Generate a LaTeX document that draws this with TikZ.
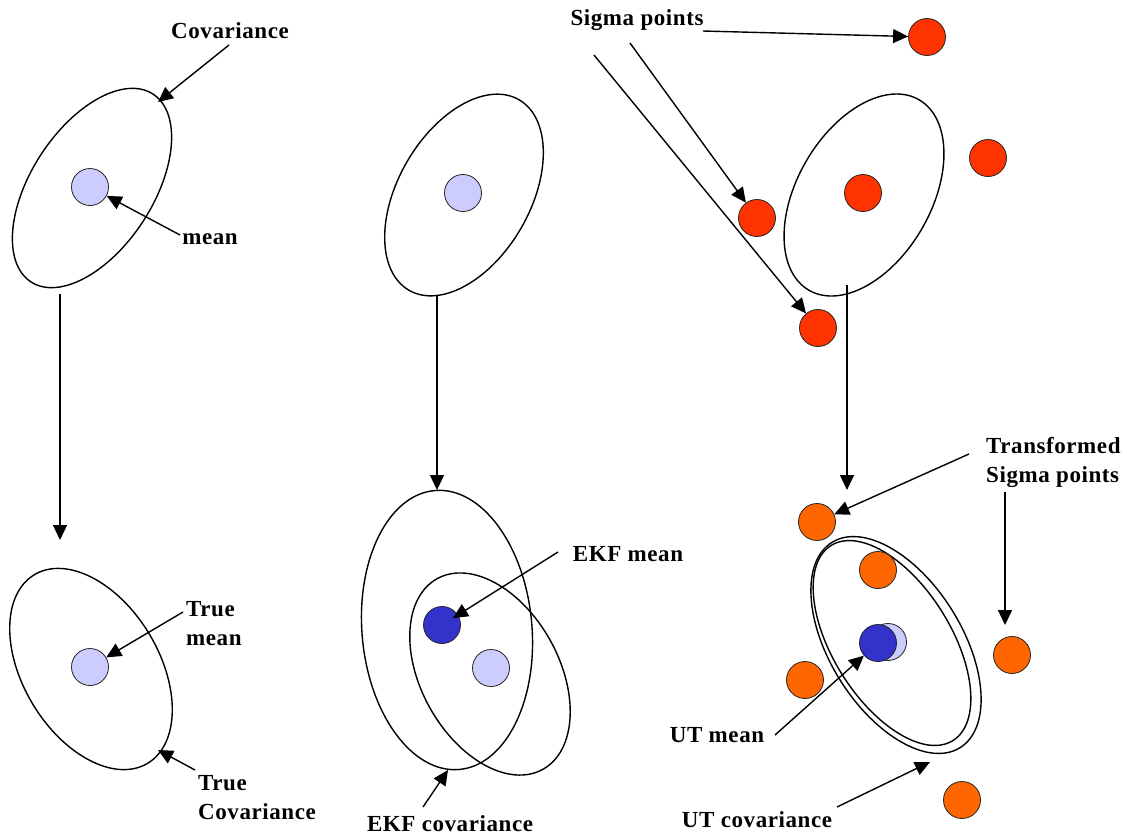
\documentclass[tikz,border=0pt]{standalone}
\usepackage{fontspec}
\setmainfont{Liberation Serif}
\newfontfamily\labelfont[LetterSpace=2.5]{Liberation Serif}
\usetikzlibrary{arrows.meta}
\definecolor{meanfill}{HTML}{CCCCFF}
\definecolor{estfill}{HTML}{3333CC}
\definecolor{sigfill}{HTML}{FF3300}
\definecolor{tsigfill}{HTML}{FF6600}
\begin{document}
\begin{tikzpicture}[x=1pt,y=-1pt,
  cov/.style={line width=1.4pt},
  pt/.style={circle, draw=black!85, line width=0.8pt, minimum size=37pt, inner sep=0pt},
  truept/.style={pt, fill=meanfill},
  estpt/.style={pt, fill=estfill},
  sigpt/.style={pt, fill=sigfill},
  tsigpt/.style={pt, fill=tsigfill},
  lbl/.style={font=\labelfont\bfseries\fontsize{23}{29}\selectfont, inner sep=0pt, align=left},
  ptr/.style={line width=1.4pt, -{Triangle[length=15pt,width=14pt]}},
]
\useasboundingbox[fill=white] (0,0) rectangle (1127,839);

% ---------- covariance ellipses ----------
\draw[cov, rotate around={57:(92,188)}]  (92,188)  ellipse [x radius=112pt, y radius=61pt];
\draw[cov, rotate around={121:(91,669)}] (91,669)  ellipse [x radius=110pt, y radius=68pt];
\draw[cov, rotate around={60:(464,195)}] (464,195) ellipse [x radius=110pt, y radius=66pt];
\draw[cov, rotate around={95:(447,630)}] (447,630) ellipse [x radius=140pt, y radius=85pt];
\draw[cov, rotate around={119:(490,674)}] (490,674) ellipse [x radius=109pt, y radius=69pt];
\draw[cov, rotate around={60:(864,195)}] (864,195) ellipse [x radius=110pt, y radius=67pt];
\draw[cov, rotate around={122:(896,645)}] (896,645) ellipse [x radius=121pt, y radius=66pt];
\draw[cov, rotate around={122:(892,643)}] (892,643) ellipse [x radius=115pt, y radius=59pt];

% ---------- points ----------
\node[truept] (m1)  at (90,187)  {};
\node[truept] (m2)  at (90,667)  {};
\node[truept] (m3)  at (463,193) {};
\node[truept] (m4)  at (491,668) {};
\node[estpt]  (ekf) at (442,625) {};
\node[truept] (m5)  at (888,642) {};
\node[estpt]  (ut)  at (878,643) {};

\node[sigpt] (s1) at (927,37)  {};
\node[sigpt] (s2) at (757,218) {};
\node[sigpt] (s3) at (863,193) {};
\node[sigpt] (s4) at (988,158) {};
\node[sigpt] (s5) at (818,328) {};

\node[tsigpt] (t1) at (817,522)  {};
\node[tsigpt] (t2) at (878,570)  {};
\node[tsigpt] (t3) at (805,680)  {};
\node[tsigpt] (t4) at (1012,655) {};
\node[tsigpt] (t5) at (962,800)  {};

% ---------- labels ----------
\node[lbl] (covlbl)  at (230,31)  {Covariance};
\node[lbl] (meanlbl) at (210,239) {mean};
\node[lbl, anchor=west] (tmeanlbl) at (186,624) {True\\mean};
\node[lbl, anchor=west] (tcovlbl)  at (198,798) {True\\Covariance};
\node[lbl] (ekfmlbl) at (628,554) {EKF mean};
\node[lbl] (ekfclbl) at (450,824) {EKF covariance};
\node[lbl] (siglbl)  at (637,20)  {Sigma points};
\node[lbl, anchor=west] (tsiglbl) at (986,462) {Transformed\\Sigma points};
\node[lbl] (utmlbl)  at (717,735) {UT mean};
\node[lbl] (utclbl)  at (757,820) {UT covariance};

% ---------- connector ends ----------
\coordinate (covtail)   at (229,45);
\coordinate (covtip)    at (158,102);
\coordinate (meantail)  at (180,235);
\coordinate (tmeantail) at (183,612);
\coordinate (tcovtail)  at (195,770);
\coordinate (tcovtip)   at (158,750);
\coordinate (leftA)     at (60,294);
\coordinate (leftB)     at (60,540);
\coordinate (midA)      at (437,295);
\coordinate (midB)      at (437,490);
\coordinate (ekfmtail)  at (558,552);
\coordinate (ekfctail)  at (423,807);
\coordinate (ekfctip)   at (448,770);
\coordinate (sigtailA)  at (703,31);
\coordinate (sigtailB)  at (630,43);
\coordinate (sigtailC)  at (594,55);
\coordinate (rightA)    at (847,285);
\coordinate (rightB)    at (847,490);
\coordinate (tsigtailA) at (969,454);
\coordinate (tsigtailB) at (1005,492);
\coordinate (tsigtipB)  at (1005,625);
\coordinate (utmtail)   at (775,735);
\coordinate (utctail)   at (837,807);
\coordinate (utctip)    at (930,762);

% ---------- connectors ----------
\draw[ptr] (covtail) -- (covtip);
\draw[ptr] (meantail) -- (m1);
\draw[ptr] (leftA) -- (leftB);
\draw[ptr] (tmeantail) -- (m2);
\draw[ptr] (tcovtail) -- (tcovtip);
\draw[ptr] (midA) -- (midB);
\draw[ptr, shorten >=-6pt] (ekfmtail) -- (ekf);
\draw[ptr] (ekfctail) -- (ekfctip);
\draw[ptr] (sigtailA) -- (s1);
\draw[ptr] (sigtailB) -- (s2);
\draw[ptr] (sigtailC) -- (s5);
\draw[ptr] (rightA) -- (rightB);
\draw[ptr] (tsigtailA) -- (t1);
\draw[ptr] (tsigtailB) -- (tsigtipB);
\draw[ptr] (utmtail) -- (ut);
\draw[ptr] (utctail) -- (utctip);
\end{tikzpicture}
\end{document}
